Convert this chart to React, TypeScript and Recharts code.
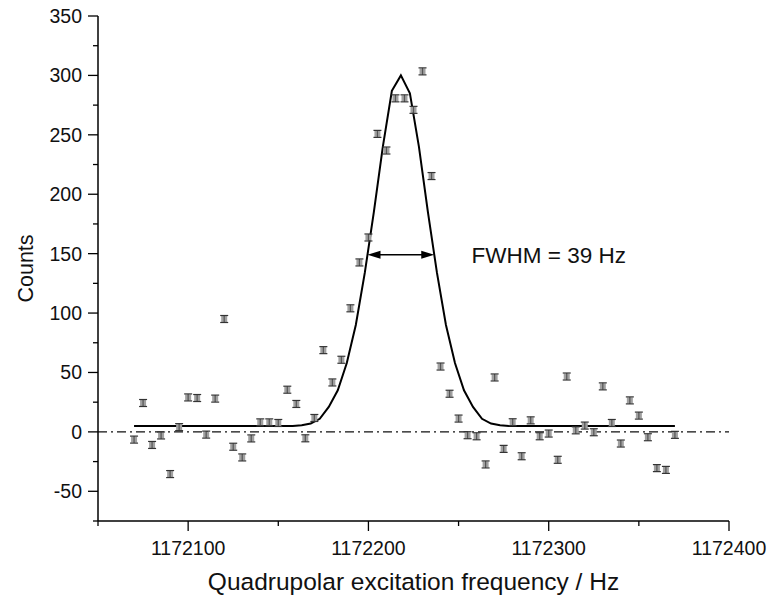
import React from "react";
import {
  ComposedChart,
  Line,
  Scatter,
  XAxis,
  YAxis,
  ReferenceLine,
  ReferenceDot,
} from "recharts";

// measured frequencies (Hz) and counts
const freqs = [
  1172070, 1172075, 1172080, 1172085, 1172090, 1172095, 1172100, 1172105, 1172110, 1172115,
  1172120, 1172125, 1172130, 1172135, 1172140, 1172145, 1172150, 1172155, 1172160, 1172165,
  1172170, 1172175, 1172180, 1172185, 1172190, 1172195, 1172200, 1172205, 1172210, 1172215,
  1172220, 1172225, 1172230, 1172235, 1172240, 1172245, 1172250, 1172255, 1172260, 1172265,
  1172270, 1172275, 1172280, 1172285, 1172290, 1172295, 1172300, 1172305, 1172310, 1172315,
  1172320, 1172325, 1172330, 1172335, 1172340, 1172345, 1172350, 1172355, 1172360, 1172365,
  1172370,
];
const counts = [
  -6.5, 24.3, -11, -3, -35.5, 4, 29, 28.5, -2.3, 28,
  95, -12.5, -21.5, -5.5, 8, 8, 7.5, 35.5, 23.5, -5.4,
  11.7, 68.8, 41.6, 60.7, 104, 142.6, 163.6, 250.8, 236.8, 280.7,
  280.7, 271, 303.4, 215.3, 55, 32.1, 11.2, -2.8, -3.7, -27.4,
  45.8, -14.3, 8.1, -20.5, 9.7, -3.7, -1.4, -23.5, 46.6, 1.3,
  5.3, -0.3, 38.3, 7.5, -9.8, 26.5, 13.7, -4.5, -30.5, -32,
  -2.5,
];

// fitted curve
const fitFreqs = [
  1172070, 1172158, 1172163, 1172168, 1172173, 1172178, 1172183, 1172188, 1172193, 1172198,
  1172203, 1172208, 1172213, 1172218, 1172223, 1172228, 1172233, 1172238, 1172243, 1172248,
  1172253, 1172258, 1172263, 1172268, 1172273, 1172278, 1172370,
];
const fitCounts = [
  5, 5, 5.5, 7, 11, 21, 35, 58, 90, 134,
  185, 240, 287, 300, 285, 240, 185, 134, 90, 58,
  35, 21, 11, 7, 5.5, 5, 5,
];

const xTicks = [1172050, 1172100, 1172150, 1172200, 1172250, 1172300, 1172350, 1172400];
const yTicks = [-75, -50, -25, 0, 25, 50, 75, 100, 125, 150, 175, 200, 225, 250, 275, 300, 325, 350];

const fwhmLevel = 149;
const fwhmLeft = 1172199.5;
const fwhmRight = 1172236.5;
const fwhmLabelAt = 1172255;
const fwhmText = "FWHM = 39 Hz";

const points = freqs.map((f, i) => ({ x: f, y: counts[i] }));
const fit = fitFreqs.map((f, i) => ({ x: f, y: fitCounts[i] }));

const FONT = "'Liberation Sans', Arial, sans-serif";

const XTick = (props: any) => {
  const { x, y, payload } = props;
  const major = payload.value % 100 === 0;
  return (
    <g>
      <line x1={x} x2={x} y1={y} y2={y + (major ? 10 : 5)} stroke="#000" strokeWidth={1.3} />
      {major && (
        <text x={x} y={y + 34} textAnchor="middle" fontSize={19.5} fontFamily={FONT} fill="#111">
          {payload.value}
        </text>
      )}
    </g>
  );
};

const YTick = (props: any) => {
  const { x, y, payload } = props;
  const major = payload.value % 50 === 0;
  return (
    <g>
      <line x1={x - (major ? 10 : 5)} x2={x} y1={y} y2={y} stroke="#000" strokeWidth={1.3} />
      {major && (
        <text x={x - 16} y={y + 7} textAnchor="end" fontSize={19.5} fontFamily={FONT} fill="#111">
          {payload.value}
        </text>
      )}
    </g>
  );
};

// small error-bar glyph
const ErrPoint = (props: any) => {
  const { cx, cy } = props;
  if (cx == null || cy == null) return null;
  return (
    <g>
      <rect x={cx - 3} y={cy - 3} width={6} height={6} fill="#a0a0a0" />
      <line x1={cx} x2={cx} y1={cy - 3.5} y2={cy + 3.5} stroke="#555" strokeWidth={1.2} />
      <line x1={cx - 4} x2={cx + 4} y1={cy - 3.5} y2={cy - 3.5} stroke="#333" strokeWidth={1.2} />
      <line x1={cx - 4} x2={cx + 4} y1={cy + 3.5} y2={cy + 3.5} stroke="#333" strokeWidth={1.2} />
    </g>
  );
};

const Arrow = (props: any) => {
  const { x1, y1, x2, y2 } = props;
  return (
    <g>
      <line x1={x1 + 10} x2={x2 - 10} y1={y1} y2={y2} stroke="#000" strokeWidth={1.5} />
      <polygon points={`${x1},${y1} ${x1 + 13},${y1 - 4} ${x1 + 13},${y1 + 4}`} fill="#000" />
      <polygon points={`${x2},${y2} ${x2 - 13},${y2 - 4} ${x2 - 13},${y2 + 4}`} fill="#000" />
    </g>
  );
};

export default function App() {
  return (
    <div style={{ position: "absolute", left: 0, top: 0, background: "#fff" }}>
      <ComposedChart
        width={767}
        height={600}
        margin={{ top: 16, right: 38, left: 0, bottom: 0 }}
      >
        <XAxis
          type="number"
          dataKey="x"
          domain={[1172050, 1172400]}
          ticks={xTicks}
          interval={0}
          height={79}
          tickSize={0}
          tickMargin={0}
          tickLine={false}
          tick={<XTick />}
          axisLine={{ stroke: "#000", strokeWidth: 1.5 }}
          allowDataOverflow
          label={{
            value: "Quadrupolar excitation frequency / Hz",
            position: "insideBottom",
            offset: 10,
            fontSize: 24.5,
            fontFamily: FONT,
            fill: "#111",
          }}
        />
        <YAxis
          type="number"
          dataKey="y"
          domain={[-75, 350]}
          ticks={yTicks}
          interval={0}
          width={98}
          tickSize={0}
          tickMargin={0}
          tickLine={false}
          tick={<YTick />}
          axisLine={{ stroke: "#000", strokeWidth: 1.5 }}
          allowDataOverflow
          label={{
            value: "Counts",
            angle: -90,
            position: "insideLeft",
            offset: 25,
            fontSize: 21.5,
            fontFamily: FONT,
            fill: "#111",
            style: { textAnchor: "middle" },
          }}
        />
        <ReferenceLine y={0} stroke="#111" strokeWidth={1.2} strokeDasharray="9 4 2 4" />
        <Line
          data={fit}
          dataKey="y"
          type="linear"
          stroke="#000"
          strokeWidth={2}
          dot={false}
          activeDot={false}
          isAnimationActive={false}
        />
        <Scatter data={points} dataKey="y" shape={<ErrPoint />} isAnimationActive={false} />
        <ReferenceLine
          segment={[
            { x: fwhmLeft, y: fwhmLevel },
            { x: fwhmRight, y: fwhmLevel },
          ]}
          shape={(p: any) => <Arrow {...p} />}
        />
        <ReferenceDot
          x={fwhmLabelAt}
          y={fwhmLevel}
          r={1}
          fill="none"
          stroke="none"
          label={{
            value: fwhmText,
            position: "right",
            offset: 3,
            fontSize: 22.5,
            fontFamily: FONT,
            fill: "#111",
          }}
        />
      </ComposedChart>
    </div>
  );
}
